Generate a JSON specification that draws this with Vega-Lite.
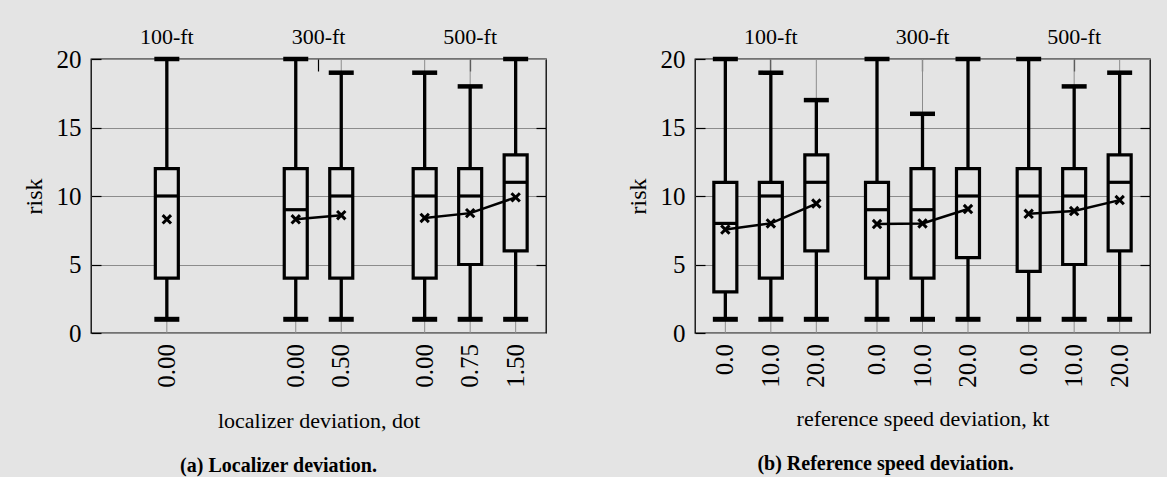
{
  "$schema": "https://vega.github.io/schema/vega-lite/v6.json",
  "padding": {"left": 21, "top": 24, "right": 17, "bottom": 2},
  "background": "#e4e4e4",
  "config": {
    "view": {"stroke": "black", "strokeWidth": 1.3},
    "font": "Liberation Serif",
    "axis": {"labelFont": "Liberation Serif", "titleFont": "Liberation Serif", "labelColor": "black", "titleColor": "black", "titleFontWeight": "normal", "domain": false, "gridColor": "#8c8c8c", "gridWidth": 1, "gridOpacity": 1, "tickColor": "black", "tickWidth": 1.2},
    "title": {"font": "Liberation Serif", "fontWeight": "bold", "fontSize": 20, "color": "black"},
    "tick": {"opacity": 1}
  },
  "datasets": {
    "a": [
      {"g": "100-ft", "dev": "0.00", "lo": 1, "q1": 4, "med": 10, "q3": 12, "hi": 20, "mean": 8.3},
      {"g": "300-ft", "dev": "0.00", "lo": 1, "q1": 4, "med": 9, "q3": 12, "hi": 20, "mean": 8.3},
      {"g": "300-ft", "dev": "0.50", "lo": 1, "q1": 4, "med": 10, "q3": 12, "hi": 19, "mean": 8.6},
      {"g": "500-ft", "dev": "0.00", "lo": 1, "q1": 4, "med": 10, "q3": 12, "hi": 19, "mean": 8.4},
      {"g": "500-ft", "dev": "0.75", "lo": 1, "q1": 5, "med": 10, "q3": 12, "hi": 18, "mean": 8.75},
      {"g": "500-ft", "dev": "1.50", "lo": 1, "q1": 6, "med": 11, "q3": 13, "hi": 20, "mean": 9.9}
    ],
    "b": [
      {"g": "100-ft", "dev": "0.0", "lo": 1, "q1": 3, "med": 8, "q3": 11, "hi": 20, "mean": 7.55},
      {"g": "100-ft", "dev": "10.0", "lo": 1, "q1": 4, "med": 10, "q3": 11, "hi": 19, "mean": 8.0},
      {"g": "100-ft", "dev": "20.0", "lo": 1, "q1": 6, "med": 11, "q3": 13, "hi": 17, "mean": 9.45},
      {"g": "300-ft", "dev": "0.0", "lo": 1, "q1": 4, "med": 9, "q3": 11, "hi": 20, "mean": 7.95},
      {"g": "300-ft", "dev": "10.0", "lo": 1, "q1": 4, "med": 9, "q3": 12, "hi": 16, "mean": 8.0},
      {"g": "300-ft", "dev": "20.0", "lo": 1, "q1": 5.5, "med": 10, "q3": 12, "hi": 20, "mean": 9.05},
      {"g": "500-ft", "dev": "0.0", "lo": 1, "q1": 4.5, "med": 10, "q3": 12, "hi": 20, "mean": 8.7},
      {"g": "500-ft", "dev": "10.0", "lo": 1, "q1": 5, "med": 10, "q3": 12, "hi": 18, "mean": 8.9},
      {"g": "500-ft", "dev": "20.0", "lo": 1, "q1": 6, "med": 11, "q3": 13, "hi": 19, "mean": 9.7}
    ]
  },
  "spacing": 77,
  "hconcat": [
    {
      "width": 455, "height": 274,
      "data": {"name": "a"},
      "title": {"text": "(a) Localizer deviation.", "orient": "bottom", "anchor": "middle", "frame": "group", "offset": 25, "dx": -40},
      "resolve": {"scale": {"xOffset": "independent"}, "axis": {"x": "independent", "y": "independent"}},
      "layer": [
        {"mark": {"type": "point", "opacity": 0},
         "encoding": {
           "x": {"field": "g", "type": "nominal", "scale": {"paddingInner": 0, "paddingOuter": 0}, "axis": {"orient": "top", "title": null, "labelAngle": 0, "labelFontSize": 22, "labelPadding": 23, "tickSize": -12, "domain": false}},
           "y": {"field": "mean", "type": "quantitative", "scale": {"domain": [0, 20]}, "axis": {"orient": "left", "values": [0, 5, 10, 15, 20], "title": "risk", "titleFontSize": 24, "labelFontSize": 25, "grid": true, "tickSize": -10, "labelPadding": 20, "titlePadding": 10}}
         }},
        {"mark": {"type": "point", "opacity": 0},
         "encoding": {
           "x": {"field": "g", "type": "nominal", "axis": {"orient": "bottom", "labels": false, "ticks": false, "domain": false, "title": "localizer deviation, dot", "titleFontSize": 22, "titlePadding": 77}},
           "y": {"field": "mean", "type": "quantitative", "axis": {"orient": "right", "labels": false, "title": null, "grid": false, "tickSize": -10, "values": [5, 10, 15]}}
         }},
        {"transform": [{"filter": "datum.g === '100-ft'"}],
         "encoding": {"x": {"field": "g", "type": "nominal", "axis": null}, "xOffset": {"field": "dev", "type": "nominal", "scale": {"paddingInner": 0, "paddingOuter": 0.167}}},
         "layer": [
           {"mark": {"type": "rule", "color": "#8c8c8c", "strokeWidth": 1}, "encoding": {"y": {"datum": 0, "type": "quantitative", "axis": null}, "y2": {"datum": 20}}},
           {"mark": {"type": "rule", "color": "black", "strokeWidth": 3.3}, "encoding": {"y": {"field": "lo", "type": "quantitative", "axis": null}, "y2": {"field": "hi"}}},
           {"mark": {"type": "bar", "fill": "#e4e4e4", "stroke": "black", "strokeWidth": 3.2, "width": 23}, "encoding": {"y": {"field": "q1", "type": "quantitative", "axis": null}, "y2": {"field": "q3"}}},
           {"mark": {"type": "tick", "color": "black", "opacity": 1, "thickness": 3.2, "size": 23}, "encoding": {"y": {"field": "med", "type": "quantitative", "axis": null}}},
           {"mark": {"type": "tick", "color": "black", "opacity": 1, "thickness": 5, "size": 25}, "encoding": {"y": {"field": "lo", "type": "quantitative", "axis": null}}},
           {"mark": {"type": "tick", "color": "black", "opacity": 1, "thickness": 4.5, "size": 25}, "encoding": {"y": {"field": "hi", "type": "quantitative", "axis": null}}},
           {"mark": {"type": "line", "color": "black", "strokeWidth": 2.5}, "encoding": {"y": {"field": "mean", "type": "quantitative", "axis": null}, "order": {"field": "dev", "type": "ordinal"}}},
           {"mark": {"type": "point", "shape": "M-1,-1L1,1M-1,1L1,-1", "size": 70, "stroke": "black", "strokeWidth": 3, "filled": false, "opacity": 1}, "encoding": {"y": {"field": "mean", "type": "quantitative", "axis": null}}},
           {"mark": {"type": "text", "angle": 270, "align": "right", "baseline": "middle", "dx": -11, "fontSize": 25, "font": "Liberation Serif", "color": "black"}, "encoding": {"y": {"datum": 0, "type": "quantitative", "axis": null}, "text": {"field": "dev"}}}
         ]},
        {"transform": [{"filter": "datum.g === '300-ft'"}],
         "encoding": {"x": {"field": "g", "type": "nominal", "axis": null}, "xOffset": {"field": "dev", "type": "nominal", "scale": {"paddingInner": 0, "paddingOuter": 0.667}}},
         "layer": [
           {"mark": {"type": "rule", "color": "#8c8c8c", "strokeWidth": 1}, "encoding": {"y": {"datum": 0, "type": "quantitative", "axis": null}, "y2": {"datum": 20}}},
           {"mark": {"type": "rule", "color": "black", "strokeWidth": 3.3}, "encoding": {"y": {"field": "lo", "type": "quantitative", "axis": null}, "y2": {"field": "hi"}}},
           {"mark": {"type": "bar", "fill": "#e4e4e4", "stroke": "black", "strokeWidth": 3.2, "width": 23}, "encoding": {"y": {"field": "q1", "type": "quantitative", "axis": null}, "y2": {"field": "q3"}}},
           {"mark": {"type": "tick", "color": "black", "opacity": 1, "thickness": 3.2, "size": 23}, "encoding": {"y": {"field": "med", "type": "quantitative", "axis": null}}},
           {"mark": {"type": "tick", "color": "black", "opacity": 1, "thickness": 5, "size": 25}, "encoding": {"y": {"field": "lo", "type": "quantitative", "axis": null}}},
           {"mark": {"type": "tick", "color": "black", "opacity": 1, "thickness": 4.5, "size": 25}, "encoding": {"y": {"field": "hi", "type": "quantitative", "axis": null}}},
           {"mark": {"type": "line", "color": "black", "strokeWidth": 2.5}, "encoding": {"y": {"field": "mean", "type": "quantitative", "axis": null}, "order": {"field": "dev", "type": "ordinal"}}},
           {"mark": {"type": "point", "shape": "M-1,-1L1,1M-1,1L1,-1", "size": 70, "stroke": "black", "strokeWidth": 3, "filled": false, "opacity": 1}, "encoding": {"y": {"field": "mean", "type": "quantitative", "axis": null}}},
           {"mark": {"type": "text", "angle": 270, "align": "right", "baseline": "middle", "dx": -11, "fontSize": 25, "font": "Liberation Serif", "color": "black"}, "encoding": {"y": {"datum": 0, "type": "quantitative", "axis": null}, "text": {"field": "dev"}}}
         ]},
        {"transform": [{"filter": "datum.g === '500-ft'"}],
         "encoding": {"x": {"field": "g", "type": "nominal", "axis": null}, "xOffset": {"field": "dev", "type": "nominal", "scale": {"paddingInner": 0, "paddingOuter": 0.167}}},
         "layer": [
           {"mark": {"type": "rule", "color": "#8c8c8c", "strokeWidth": 1}, "encoding": {"y": {"datum": 0, "type": "quantitative", "axis": null}, "y2": {"datum": 20}}},
           {"mark": {"type": "rule", "color": "black", "strokeWidth": 3.3}, "encoding": {"y": {"field": "lo", "type": "quantitative", "axis": null}, "y2": {"field": "hi"}}},
           {"mark": {"type": "bar", "fill": "#e4e4e4", "stroke": "black", "strokeWidth": 3.2, "width": 23}, "encoding": {"y": {"field": "q1", "type": "quantitative", "axis": null}, "y2": {"field": "q3"}}},
           {"mark": {"type": "tick", "color": "black", "opacity": 1, "thickness": 3.2, "size": 23}, "encoding": {"y": {"field": "med", "type": "quantitative", "axis": null}}},
           {"mark": {"type": "tick", "color": "black", "opacity": 1, "thickness": 5, "size": 25}, "encoding": {"y": {"field": "lo", "type": "quantitative", "axis": null}}},
           {"mark": {"type": "tick", "color": "black", "opacity": 1, "thickness": 4.5, "size": 25}, "encoding": {"y": {"field": "hi", "type": "quantitative", "axis": null}}},
           {"mark": {"type": "line", "color": "black", "strokeWidth": 2.5}, "encoding": {"y": {"field": "mean", "type": "quantitative", "axis": null}, "order": {"field": "dev", "type": "ordinal"}}},
           {"mark": {"type": "point", "shape": "M-1,-1L1,1M-1,1L1,-1", "size": 70, "stroke": "black", "strokeWidth": 3, "filled": false, "opacity": 1}, "encoding": {"y": {"field": "mean", "type": "quantitative", "axis": null}}},
           {"mark": {"type": "text", "angle": 270, "align": "right", "baseline": "middle", "dx": -11, "fontSize": 25, "font": "Liberation Serif", "color": "black"}, "encoding": {"y": {"datum": 0, "type": "quantitative", "axis": null}, "text": {"field": "dev"}}}
         ]}
      ]
    },
    {
      "width": 455, "height": 274,
      "data": {"name": "b"},
      "title": {"text": "(b) Reference speed deviation.", "orient": "bottom", "anchor": "middle", "frame": "group", "offset": 25, "dx": -37},
      "resolve": {"axis": {"x": "independent", "y": "independent"}},
      "layer": [
        {"mark": {"type": "point", "opacity": 0},
         "encoding": {
           "x": {"field": "g", "type": "nominal", "scale": {"paddingInner": 0, "paddingOuter": 0}, "axis": {"orient": "top", "title": null, "labelAngle": 0, "labelFontSize": 22, "labelPadding": 23, "tickSize": -12, "domain": false}},
           "y": {"field": "mean", "type": "quantitative", "scale": {"domain": [0, 20]}, "axis": {"orient": "left", "values": [0, 5, 10, 15, 20], "title": "risk", "titleFontSize": 24, "labelFontSize": 25, "grid": true, "tickSize": -10, "labelPadding": 20, "titlePadding": 10}}
         }},
        {"mark": {"type": "point", "opacity": 0},
         "encoding": {
           "x": {"field": "g", "type": "nominal", "axis": {"orient": "bottom", "labels": false, "ticks": false, "domain": false, "title": "reference speed deviation, kt", "titleFontSize": 22, "titlePadding": 75}},
           "y": {"field": "mean", "type": "quantitative", "axis": {"orient": "right", "labels": false, "title": null, "grid": false, "tickSize": -10, "values": [5, 10, 15]}}
         }},
        {"encoding": {"x": {"field": "g", "type": "nominal", "axis": null}, "xOffset": {"field": "dev", "type": "nominal", "scale": {"paddingInner": 0, "paddingOuter": 0.167}}},
         "layer": [
           {"mark": {"type": "rule", "color": "#8c8c8c", "strokeWidth": 1}, "encoding": {"y": {"datum": 0, "type": "quantitative", "axis": null}, "y2": {"datum": 20}}},
           {"mark": {"type": "rule", "color": "black", "strokeWidth": 3.3}, "encoding": {"y": {"field": "lo", "type": "quantitative", "axis": null}, "y2": {"field": "hi"}}},
           {"mark": {"type": "bar", "fill": "#e4e4e4", "stroke": "black", "strokeWidth": 3.2, "width": 23}, "encoding": {"y": {"field": "q1", "type": "quantitative", "axis": null}, "y2": {"field": "q3"}}},
           {"mark": {"type": "tick", "color": "black", "opacity": 1, "thickness": 3.2, "size": 23}, "encoding": {"y": {"field": "med", "type": "quantitative", "axis": null}}},
           {"mark": {"type": "tick", "color": "black", "opacity": 1, "thickness": 5, "size": 25}, "encoding": {"y": {"field": "lo", "type": "quantitative", "axis": null}}},
           {"mark": {"type": "tick", "color": "black", "opacity": 1, "thickness": 4.5, "size": 25}, "encoding": {"y": {"field": "hi", "type": "quantitative", "axis": null}}},
           {"mark": {"type": "line", "color": "black", "strokeWidth": 2.5}, "encoding": {"y": {"field": "mean", "type": "quantitative", "axis": null}, "detail": {"field": "g"}, "order": {"field": "dev", "type": "ordinal"}}},
           {"mark": {"type": "point", "shape": "M-1,-1L1,1M-1,1L1,-1", "size": 70, "stroke": "black", "strokeWidth": 3, "filled": false, "opacity": 1}, "encoding": {"y": {"field": "mean", "type": "quantitative", "axis": null}}},
           {"mark": {"type": "text", "angle": 270, "align": "right", "baseline": "middle", "dx": -11, "fontSize": 25, "font": "Liberation Serif", "color": "black"}, "encoding": {"y": {"datum": 0, "type": "quantitative", "axis": null}, "text": {"field": "dev"}}}
         ]}
      ]
    }
  ]
}
